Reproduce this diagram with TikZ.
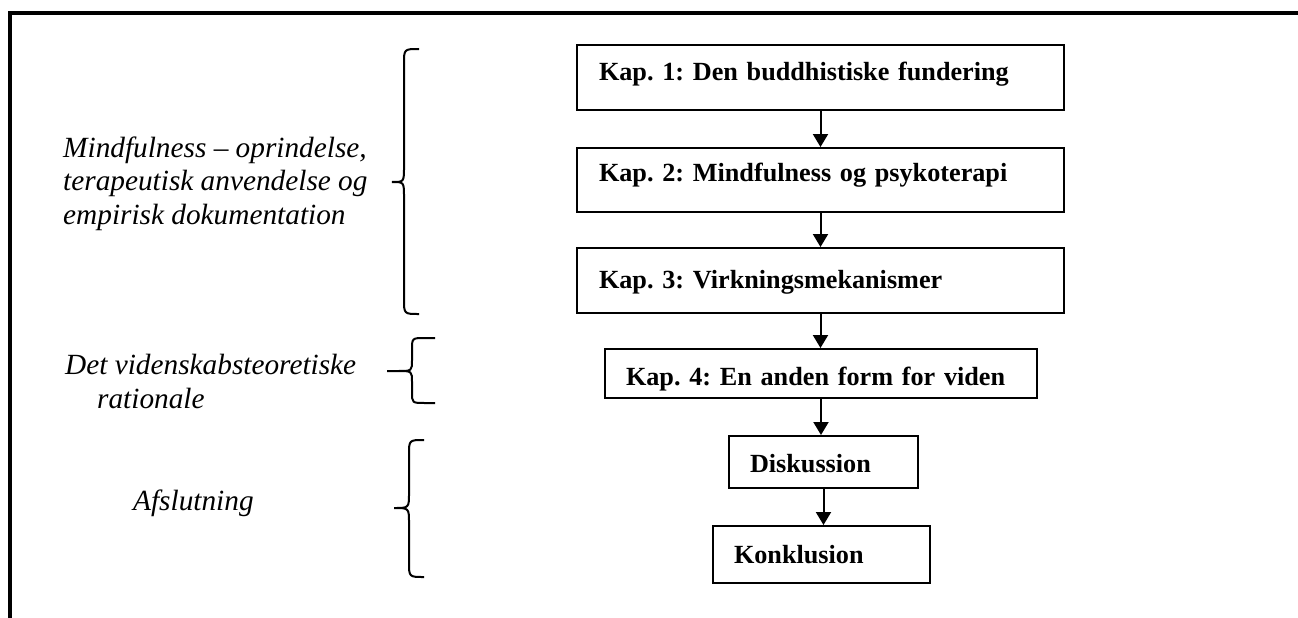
\documentclass[tikz,border=0pt]{standalone}
\usepackage{fontspec}
\setmainfont{Liberation Serif}
\usetikzlibrary{arrows.meta}
\frenchspacing

\begin{document}
\begin{tikzpicture}[x=1pt,y=-1pt,
	kap/.style={draw, line width=2pt, inner xsep=22pt, inner ysep=0pt, anchor=north west, align=left, font=\fontsize{26.2}{30}\selectfont\bfseries},
	emne/.style={inner sep=0pt, anchor=base west, align=left, font=\fontsize{29.3}{33.2}\selectfont\itshape},
	pil/.style={line width=2pt, -{Triangle[length=13pt,width=15pt]}},
	klamme/.style={line width=2pt}]
	\useasboundingbox (0,0) rectangle (1298,618);
	% ramme
	\draw[line width=4pt] (10,620) -- (10,13.5) -- (1300,13.5);
	% kapitler
	\node[kap, text width=443pt, text height=36pt, text depth=29pt] (k1) at (576,44) {Kap. 1: Den buddhistiske fundering};
	\node[kap, text width=443pt, text height=33pt, text depth=31pt] (k2) at (576,147) {Kap. 2: Mindfulness og psykoterapi};
	\node[kap, text width=443pt, text height=40pt, text depth=25pt] (k3) at (576,247) {Kap. 3: Virkningsmekanismer};
	\node[kap, inner xsep=21pt, text width=390pt, text height=36pt, text depth=13pt] (k4) at (604,348) {Kap. 4: En anden form for viden};
	\node[kap, inner xsep=21pt, text width=147pt, text height=36pt, text depth=16pt] (disk) at (728,435) {Diskussion};
	\node[kap, inner xsep=21pt, text width=175pt, text height=37pt, text depth=20pt] (konk) at (712,525) {Konklusion};
	\draw[pil] (k1.south) -- (k1.south |- k2.north);
	\draw[pil] (k2.south) -- (k2.south |- k3.north);
	\draw[pil] (k3.south) -- (k3.south |- k4.north);
	\draw[pil] (k4.south) -- (k4.south |- disk.north);
	\draw[pil] (disk.south) -- (disk.south |- konk.north);
	% klammer og emner
	\draw[klamme] (419,49) .. controls (404,49) .. (404,64) -- (404,167) .. controls (404,182) .. (392,182) .. controls (404,182) .. (404,197) -- (404,299) .. controls (404,314) .. (419,314);
	\draw[klamme] (435,338) -- (425,338) .. controls (412,338) .. (412,350) -- (412,360) .. controls (412,371) .. (398,371) -- (387,371) (398,371) .. controls (412,371) .. (412,382) -- (412,392) .. controls (412,403) .. (425,403) -- (435,403);
	\draw[klamme] (424,440) .. controls (409,440) .. (409,455) -- (409,493) .. controls (409,508) .. (394,508) .. controls (409,508) .. (409,523) -- (409,562) .. controls (409,577) .. (424,577);
	\node[emne] (tema1) at (63,224) {Mindfulness – oprindelse,\\terapeutisk anvendelse og\\empirisk dokumentation};
	\node[emne] (tema2) at (65,408) {Det videnskabsteoretiske\\\hspace*{32pt}rationale};
	\node[emne] (tema3) at (133,510) {Afslutning};
\end{tikzpicture}
\end{document}
